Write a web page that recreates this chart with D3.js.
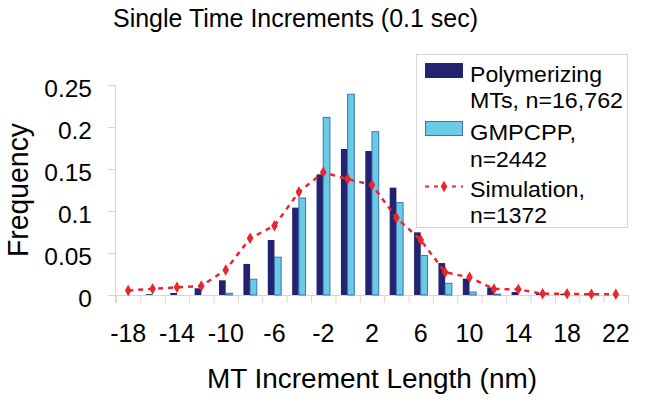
<!DOCTYPE html>
<html><head><meta charset="utf-8">
<script src="https://cdn.jsdelivr.net/npm/d3@7"></script>
<style>
html,body{margin:0;padding:0;background:#fff;}
text{font-family:"Liberation Sans",Arial,sans-serif;fill:#000;}
</style></head>
<body><svg id="c" width="650" height="404"></svg>
<script>
const categories = [-18,-16,-14,-12,-10,-8,-6,-4,-2,0,2,4,6,8,10,12,14,16,18,20,22];
const xTickLabels = [-18,-14,-10,-6,-2,2,6,10,14,18,22];
const polymerizing = [0,0.001,0.0024,0.008,0.0175,0.037,0.0655,0.104,0.1436,0.1738,0.1714,0.1278,0.0746,0.038,0.0195,0.009,0.0035,0.0015,0.0015,0,0];
const gmpcpp = [0,0,0,0,0.002,0.0187,0.045,0.1155,0.2115,0.239,0.1944,0.11,0.047,0.0139,0.0035,0.001,0,0,0,0,0];
const simulation = [0.0053,0.0073,0.0091,0.0108,0.0298,0.0675,0.0825,0.1226,0.146,0.138,0.131,0.092,0.0655,0.027,0.021,0.0071,0.0067,0.0014,0.0014,0.0008,0.001];
const yTicks = [0,0.05,0.1,0.15,0.2,0.25];
const legendLines = [["Polymerizing","MTs, n=16,762"],["GMPCPP,","n=2442"],["Simulation,","n=1372"]];
const legendWidths = [[132,153],[106,77],[115,77]];

const svg = d3.select("#c");
const L = 116, R = 628, T = 85, B = 295;
const x = d3.scaleBand().domain(categories).range([L, R]).paddingInner(0).paddingOuter(0);
const x1 = d3.scaleBand().domain([0,1]).range([0, x.bandwidth()]).paddingInner(0).paddingOuter(0.82);
const y = d3.scaleLinear().domain([0,0.25]).range([B, T]);
const axisCol = "#dcd3d3";
const navy = "#23246f", light = "#69cce4", lightStroke = "#3e72b2", red = "#e8262b";

// Title
svg.append("text").attr("x",113).attr("y",27).attr("font-size",26)
  .attr("textLength",365).attr("lengthAdjust","spacingAndGlyphs").text("Single Time Increments (0.1 sec)");

// Y axis
const yAxis = svg.append("g").attr("transform",`translate(${L},0)`)
  .call(d3.axisLeft(y).tickValues(yTicks).tickSize(8).tickPadding(16).tickFormat(d3.format("~g")));
yAxis.select(".domain").attr("stroke",axisCol).attr("d",`M-0.5,${T}V${B+8}`);
yAxis.selectAll(".tick line").attr("stroke",axisCol);
yAxis.selectAll(".tick text").attr("font-size",24.5).attr("font-family","Liberation Sans, Arial, sans-serif").attr("dy","0.45em").attr("fill","#000");

// X axis baseline and boundary ticks
svg.append("line").attr("x1",L).attr("x2",R).attr("y1",B+0.5).attr("y2",B+0.5).attr("stroke",axisCol);
svg.append("g").selectAll("line").data(categories.concat([null])).join("line")
  .attr("x1",(d,i)=> i<categories.length ? x(d)+0.5 : R+0.5)
  .attr("x2",(d,i)=> i<categories.length ? x(d)+0.5 : R+0.5)
  .attr("y1",B).attr("y2",B+8).attr("stroke",axisCol);
const xAxis = svg.append("g").attr("transform",`translate(0,${B})`)
  .call(d3.axisBottom(x).tickValues(xTickLabels).tickSize(0).tickPadding(29));
xAxis.select(".domain").remove();
xAxis.selectAll(".tick text").attr("font-size",25).attr("font-family","Liberation Sans, Arial, sans-serif").attr("fill","#000");

// Axis titles
svg.append("text").attr("x",207).attr("y",388).attr("font-size",27.5)
  .attr("textLength",330).attr("lengthAdjust","spacingAndGlyphs").text("MT Increment Length (nm)");
svg.append("text").attr("transform","translate(28,190) rotate(-90)").attr("text-anchor","middle").attr("font-size",29)
  .attr("textLength",134).attr("lengthAdjust","spacingAndGlyphs").text("Frequency");

// Bars
const plot = svg.append("g");
plot.selectAll("rect.p").data(polymerizing).join("rect").attr("class","p")
  .attr("x",(d,i)=>x(categories[i])+x1(0)).attr("width",x1.bandwidth())
  .attr("y",d=>y(d)).attr("height",d=>B-y(d)).attr("fill",navy);
plot.selectAll("rect.g").data(gmpcpp).join("rect").attr("class","g")
  .attr("x",(d,i)=>x(categories[i])+x1(1)).attr("width",x1.bandwidth())
  .attr("y",d=>y(d)).attr("height",d=>B-y(d)).attr("fill",light)
  .attr("stroke",d=>d>0?lightStroke:"none").attr("stroke-width",1);

// Simulation line
const line = d3.line().x((d,i)=>x(categories[i])+x.bandwidth()/2).y(d=>y(d));
plot.append("path").datum(simulation).attr("d",line).attr("fill","none")
  .attr("stroke",red).attr("stroke-width",2.5).attr("stroke-dasharray","5,5");
const diamond = d3.symbol().type(d3.symbolDiamond).size(38);
plot.selectAll("path.s").data(simulation).join("path").attr("class","s")
  .attr("transform",(d,i)=>`translate(${x(categories[i])+x.bandwidth()/2},${y(d)})`)
  .attr("d",diamond).attr("fill",red);

// Legend
const lg = svg.append("g");
lg.append("rect").attr("x",416.5).attr("y",54.5).attr("width",211).attr("height",173)
  .attr("fill","#fff").attr("stroke","#d6d6d6");
const baselines = [[81.7,108.3],[140,166.7],[196.7,223.3]];
legendLines.forEach((ls,k)=>{
  ls.forEach((t,j)=>{
    lg.append("text").attr("x",470).attr("y",baselines[k][j]).attr("font-size",22)
      .attr("textLength",legendWidths[k][j]).attr("lengthAdjust","spacingAndGlyphs").text(t);
  });
});
lg.append("rect").attr("x",425).attr("y",63).attr("width",38).attr("height",15).attr("fill",navy);
lg.append("rect").attr("x",425.5).attr("y",121.5).attr("width",37).attr("height",14).attr("fill",light).attr("stroke",lightStroke);
lg.append("line").attr("x1",425).attr("x2",463).attr("y1",186.5).attr("y2",186.5)
  .attr("stroke",red).attr("stroke-width",2.2).attr("stroke-dasharray","4,5");
lg.append("path").attr("transform","translate(444,186.5)").attr("d",diamond).attr("fill",red);
</script>
</body></html>
